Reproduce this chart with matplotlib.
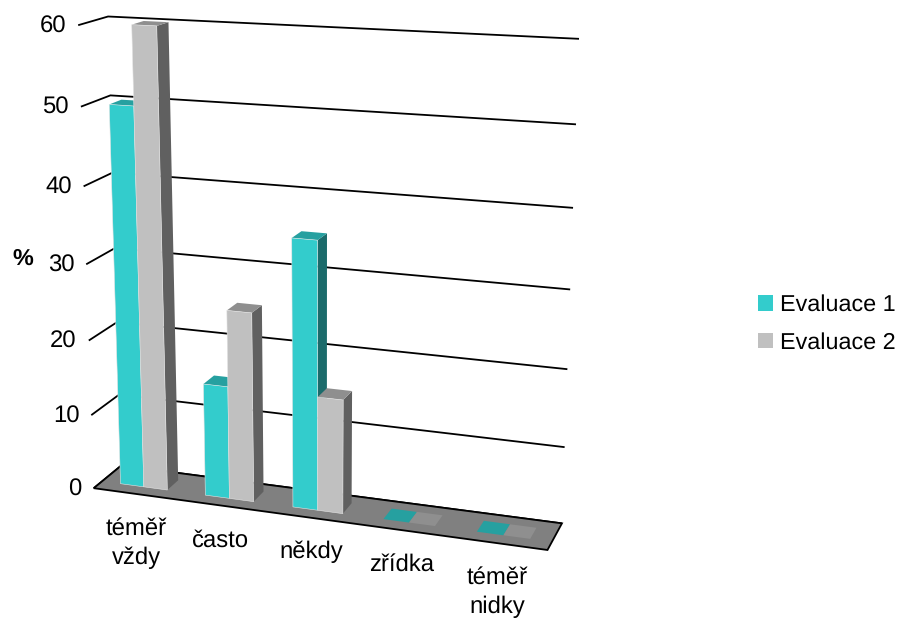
#! /usr/bin/env python3
"""Two-series 3D-style column chart, drawn with a perspective projection."""

import numpy as np
import matplotlib

matplotlib.use("Agg")
import matplotlib.pyplot as plt  # noqa: E402
from matplotlib.patches import Patch, Polygon  # noqa: E402

categories = ["téměř\nvždy", "často", "někdy", "zřídka", "téměř\nnidky"]
evaluace_1 = [50, 15, 35, 0, 0]
evaluace_2 = [60, 25, 15, 0, 0]
y_ticks = [0, 10, 20, 30, 40, 50, 60]
series_names = ["Evaluace 1", "Evaluace 2"]

# Box corners and wall ticks as (category, value, depth) -> pixel, used to fit the camera.
ANCHORS = [
    (0, 60, 0, 78, 25), (0, 50, 0, 82, 106), (0, 40, 0, 83, 186),
    (0, 20, 0, 90, 342), (0, 10, 0, 91, 415), (0, 0, 0, 93, 488),
    (0, 60, 1, 108, 17), (0, 50, 1, 110, 95), (0, 40, 1, 112, 173),
    (0, 0, 1, 122, 465),
    (5, 60, 1, 579, 40), (5, 50, 1, 578, 124), (5, 40, 1, 572, 207),
    (5, 30, 1, 569, 289), (5, 20, 1, 567, 369), (5, 0, 1, 563, 524),
    (5, 0, 0, 547, 550),
]

TEAL = {"front": "#33CCCC", "top": "#26A0A0", "side": "#1B6B6B"}
GREY = {"front": "#C0C0C0", "top": "#8F8F8F", "side": "#606060"}
BAR_WIDTH = 0.278
BAR_START = 0.22
DEPTH = (0.30, 0.72)
FONT = "Liberation Sans"
FS = 16.8
LABEL_FS = 17.2


def fit_camera(anchors):
    rows = []
    for u, v, w, x, y in anchors:
        p = [u, v, w, 1]
        rows.append(p + [0, 0, 0, 0] + [-x * c for c in p])
        rows.append([0, 0, 0, 0] + p + [-y * c for c in p])
    return np.linalg.svd(np.array(rows, float))[2][-1].reshape(3, 4)


CAMERA = fit_camera(ANCHORS)


def project(u, v, w):
    x, y, h = CAMERA @ np.array([u, v, w, 1.0])
    return x / h, y / h


def draw_bar(ax, u0, u1, value, colors):
    w0, w1 = DEPTH
    top = [project(u0, value, w0), project(u1, value, w0),
           project(u1, value, w1), project(u0, value, w1)]
    if value == 0:
        ax.add_patch(Polygon(top, fc=colors["top"], ec="none", zorder=3))
        return
    front = [project(u0, 0, w0), project(u1, 0, w0),
             project(u1, value, w0), project(u0, value, w0)]
    side = [project(u1, 0, w0), project(u1, 0, w1),
            project(u1, value, w1), project(u1, value, w0)]
    ax.add_patch(Polygon(side, fc=colors["side"], ec="none", zorder=3))
    ax.add_patch(Polygon(top, fc=colors["top"], ec="none", zorder=3))
    ax.add_patch(Polygon(front, fc=colors["front"], ec="#E4E4E4", lw=0.4, zorder=3))


def main():
    plt.rcParams["text.hinting"] = "no_hinting"
    fig = plt.figure(figsize=(8.97, 6.18), dpi=100)
    ax = fig.add_axes([0, 0, 1, 1])
    ax.set_xlim(0, 897)
    ax.set_ylim(618, 0)
    ax.axis("off")

    # Gridlines run from the tick over the side wall and along the back wall.
    for tick in y_ticks:
        pts = [project(0, tick, 0), project(0, tick, 1), project(5, tick, 1)]
        xs, ys = zip(*pts)
        ax.plot(xs, ys, color="black", lw=1.3, zorder=1, solid_capstyle="butt")
        ax.text(pts[0][0] - 12, pts[0][1] + 1, str(tick), ha="right", va="center",
                family=FONT, fontsize=LABEL_FS)

    floor = [project(0, 0, 0), project(5, 0, 0), project(5, 0, 1), project(0, 0, 1)]
    ax.add_patch(Polygon(floor, fc="#808080", ec="black", lw=1.3, zorder=2))

    for i in range(len(categories)):
        u = i + BAR_START
        draw_bar(ax, u, u + BAR_WIDTH, evaluace_1[i], TEAL)
        draw_bar(ax, u + BAR_WIDTH, u + 2 * BAR_WIDTH, evaluace_2[i], GREY)

    label_x = [136, 221, 311, 402, 497]
    label_y = [543, 541, 552, 565, 592]
    for name, x, y in zip(categories, label_x, label_y):
        ax.text(x, y, name, ha="center", va="center", family=FONT, fontsize=LABEL_FS,
                linespacing=1.4)

    ax.text(23, 259, "%", ha="center", va="center", family=FONT, fontsize=FS,
            fontweight="bold")

    handles = [Patch(fc=TEAL["front"], ec="none"), Patch(fc=GREY["front"], ec="none")]
    ax.legend(handles, series_names, loc="center left", bbox_to_anchor=(758, 324),
              bbox_transform=ax.transData, frameon=False, borderpad=0, borderaxespad=0,
              prop={"family": FONT, "size": FS}, handlelength=0.65, handleheight=0.65,
              handletextpad=0.3, labelspacing=0.7)

    fig.savefig("out.png", dpi=100)


if __name__ == "__main__":
    main()
